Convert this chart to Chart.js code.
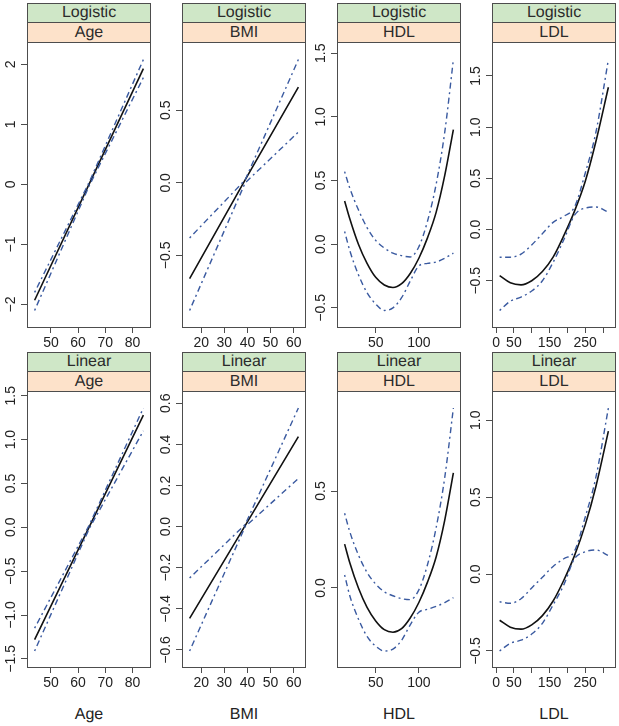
<!DOCTYPE html>
<html>
<head>
<meta charset="utf-8">
<script src="https://cdn.jsdelivr.net/npm/chart.js@4.4.0/dist/chart.umd.min.js"></script>
<style>
  body { margin: 0; background: #fff; }
  #fig { position: relative; width: 619px; height: 726px; font-family: "Liberation Sans", Arial, sans-serif; color: #222; }
  .strip { position: absolute; box-sizing: border-box; border: 1px solid #4d4d4d; text-align: center; font-size: 16px; font-weight: 400; line-height: 18px; color: #2b2b2b; text-rendering: geometricPrecision; -webkit-font-smoothing: antialiased; }
  .model { background: #cfe7c7; }
  .var { background: #fde2ca; }
  .xlab { position: absolute; text-align: center; font-size: 16px; line-height: 18px; text-rendering: geometricPrecision; }
  canvas { position: absolute; }
</style>
</head>
<body>
<div id="fig"></div>
<script>
// ---- data ----
const ageX = [44, 64, 84];
const logAgeFit = [-1.93, 0.0, 1.93];
const logAgeUpper = [-1.80, 0.03, 2.08];
const logAgeLower = [-2.10, -0.03, 1.78];
const linAgeFit = [-1.28, 0.0, 1.28];
const linAgeUpper = [-1.15, 0.02, 1.36];
const linAgeLower = [-1.41, -0.02, 1.10];

const bmiX = [15, 39, 62];
const logBmiFit = [-0.66, 0.02, 0.66];
const logBmiUpper = [-0.38, 0.02, 0.85];
const logBmiLower = [-0.88, 0.00, 0.35];
const linBmiFit = [-0.446, 0.005, 0.438];
const linBmiUpper = [-0.25, 0.01, 0.577];
const linBmiLower = [-0.605, 0.0, 0.234];

const hdlX = [14, 20, 30, 40, 50, 60, 70, 80, 90, 100, 110, 120, 130, 140];
const logHdlFit = [0.34, 0.20, 0.00, -0.15, -0.26, -0.32, -0.34, -0.31, -0.23, -0.11, 0.05, 0.25, 0.54, 0.90];
const logHdlUpper = [0.57, 0.44, 0.27, 0.13, 0.03, -0.03, -0.07, -0.09, -0.10, -0.02, 0.18, 0.47, 0.88, 1.45];
const logHdlLower = [0.10, -0.05, -0.24, -0.38, -0.47, -0.52, -0.50, -0.42, -0.29, -0.17, -0.15, -0.14, -0.11, -0.07];
const linHdlFit = [0.226, 0.13, 0.0, -0.10, -0.17, -0.215, -0.228, -0.21, -0.155, -0.075, 0.03, 0.16, 0.35, 0.594];
const linHdlUpper = [0.385, 0.29, 0.17, 0.08, 0.02, -0.02, -0.04, -0.055, -0.06, -0.01, 0.12, 0.31, 0.57, 0.928];
const linHdlLower = [0.067, -0.04, -0.16, -0.25, -0.30, -0.325, -0.315, -0.27, -0.19, -0.125, -0.11, -0.095, -0.075, -0.05];

const ldlX = [10, 40, 70, 100, 130, 160, 190, 220, 250, 280, 315];
const logLdlFit = [-0.45, -0.52, -0.54, -0.50, -0.41, -0.27, -0.06, 0.18, 0.47, 0.86, 1.39];
const logLdlUpper = [-0.27, -0.27, -0.24, -0.15, -0.04, 0.07, 0.13, 0.22, 0.55, 0.95, 1.66];
const logLdlLower = [-0.79, -0.70, -0.66, -0.60, -0.50, -0.32, -0.10, 0.14, 0.21, 0.22, 0.17];
const linLdlFit = [-0.30, -0.345, -0.358, -0.33, -0.27, -0.175, -0.04, 0.12, 0.32, 0.57, 0.93];
const linLdlUpper = [-0.18, -0.19, -0.16, -0.09, -0.02, 0.05, 0.10, 0.15, 0.37, 0.63, 1.08];
const linLdlLower = [-0.50, -0.45, -0.43, -0.39, -0.32, -0.20, -0.07, 0.10, 0.145, 0.157, 0.12];

// tick values and labels
const ageTicks = [50, 60, 70, 80];
const bmiTicks = [20, 30, 40, 50, 60];
const hdlTicks = [50, 100];
const ldlTicks = [0, 50, 100, 150, 200, 250, 300];
const ldlTickLabels = ['0', '50', '', '150', '', '250', ''];

const logAgeY = [-2, -1, 0, 1, 2];
const logBmiY = [-0.5, 0, 0.5];
const logHdlY = [-0.5, 0, 0.5, 1, 1.5];
const logLdlY = [-0.5, 0, 0.5, 1, 1.5];
const linAgeY = [-1.5, -1, -0.5, 0, 0.5, 1, 1.5];
const linBmiY = [-0.6, -0.4, -0.2, 0, 0.2, 0.4, 0.6];
const linHdlY = [0, 0.5];
const linLdlY = [-0.5, 0, 0.5, 1];

const models = ['Logistic', 'Linear'];
const vars = ['Age', 'BMI', 'HDL', 'LDL'];

// x, fit, upper, lower, x ticks, x tick labels, y ticks, decimals, curved
const panels = [
  [ageX, logAgeFit, logAgeUpper, logAgeLower, ageTicks, null, logAgeY, 0, false],
  [bmiX, logBmiFit, logBmiUpper, logBmiLower, bmiTicks, null, logBmiY, 1, false],
  [hdlX, logHdlFit, logHdlUpper, logHdlLower, hdlTicks, null, logHdlY, 1, true],
  [ldlX, logLdlFit, logLdlUpper, logLdlLower, ldlTicks, ldlTickLabels, logLdlY, 1, true],
  [ageX, linAgeFit, linAgeUpper, linAgeLower, ageTicks, null, linAgeY, 1, false],
  [bmiX, linBmiFit, linBmiUpper, linBmiLower, bmiTicks, null, linBmiY, 1, false],
  [hdlX, linHdlFit, linHdlUpper, linHdlLower, hdlTicks, null, linHdlY, 1, true],
  [ldlX, linLdlFit, linLdlUpper, linLdlLower, ldlTicks, ldlTickLabels, linLdlY, 1, true]
];

// ---- layout ----
const colLeft = [27, 182, 337, 492];
const boxW = 124;
const stripTop = [3, 352];
const stripH = 39;
const plotBottom = [328, 668];
const yAxisW = 27, xAxisH = 26, padRight = 4;
const FONT = '"Liberation Sans", Arial, sans-serif';
const BLUE = '#3a5aa0';

function fmt(v, dec) {
  if (Math.abs(v) < 1e-9) v = 0;
  return v.toFixed(dec).replace('-', '\u2212');
}

// lattice style limits: data range plus 7% each side
function pad(arrs) {
  const all = [].concat(...arrs);
  const lo = Math.min(...all), hi = Math.max(...all);
  const d = (hi - lo) * 0.07;
  return [lo - d, hi + d];
}

const framePlugin = {
  id: 'frame',
  afterDatasetsDraw(chart) {
    const {ctx, chartArea: a} = chart;
    ctx.save();
    ctx.strokeStyle = '#4d4d4d';
    ctx.lineWidth = 1;
    ctx.strokeRect(a.left + 0.5, a.top + 0.5, a.right - a.left - 1, a.bottom - a.top - 1);
    ctx.restore();
  },
  afterDraw(chart, args, opts) {
    const {ctx, chartArea: a} = chart;
    const ys = chart.scales.y;
    ctx.save();
    ctx.font = '14px ' + FONT;
    ctx.fillStyle = '#222';
    ctx.textAlign = 'center';
    ctx.textBaseline = 'middle';
    ys.ticks.forEach(t => {
      ctx.save();
      ctx.translate(a.left - 16, ys.getPixelForValue(t.value));
      ctx.rotate(-Math.PI / 2);
      ctx.fillText(fmt(t.value, opts.dec), 0, 0);
      ctx.restore();
    });
    ctx.restore();
  }
};

const fig = document.getElementById('fig');

panels.forEach((p, i) => {
  const [xs, fit, upper, lower, xt, xl, yt, dec, curved] = p;
  const r = Math.floor(i / 4), c = i % 4;
  const left = colLeft[c];
  const top = stripTop[r];
  const plotTop = top + stripH;
  const plotH = plotBottom[r] - plotTop;

  const s1 = document.createElement('div');
  s1.className = 'strip model';
  s1.style.cssText = `left:${left}px;top:${top}px;width:${boxW}px;height:20px;`;
  s1.textContent = models[r];
  fig.appendChild(s1);
  const s2 = document.createElement('div');
  s2.className = 'strip var';
  s2.style.cssText = `left:${left}px;top:${top + 19}px;width:${boxW}px;height:21px;line-height:19px;`;
  s2.textContent = vars[c];
  fig.appendChild(s2);

  if (r === 1) {
    const t = document.createElement('div');
    t.className = 'xlab';
    t.style.cssText = `left:${left}px;top:706px;width:${boxW}px;`;
    t.textContent = vars[c];
    fig.appendChild(t);
  }

  const cv = document.createElement('canvas');
  const W = yAxisW + boxW + padRight, H = stripH + plotH + xAxisH;
  cv.width = W; cv.height = H;
  cv.style.cssText = `left:${left - yAxisW}px;top:${top}px;width:${W}px;height:${H}px;`;
  fig.appendChild(cv);

  const [xmin, xmax] = pad([xs]);
  const [ymin, ymax] = pad([fit, upper, lower]);
  const pts = ys => xs.map((x, k) => ({x: x, y: ys[k]}));
  const mode = curved ? 'monotone' : 'default';
  const ci = {borderColor: BLUE, borderWidth: 1.4, borderDash: [2, 3.5, 6, 3.5], pointRadius: 0, cubicInterpolationMode: mode, tension: 0, fill: false};

  new Chart(cv, {
    type: 'line',
    data: {
      datasets: [
        Object.assign({data: pts(upper)}, ci),
        Object.assign({data: pts(lower)}, ci),
        {data: pts(fit), borderColor: '#111', borderWidth: 1.6, pointRadius: 0, cubicInterpolationMode: mode, tension: 0, fill: false}
      ]
    },
    options: {
      responsive: false,
      animation: false,
      devicePixelRatio: 1,
      layout: {autoPadding: false, padding: {left: 0, right: padRight, top: stripH, bottom: 0}},
      plugins: {legend: {display: false}, tooltip: {enabled: false}, frame: {dec: dec}},
      scales: {
        x: {
          type: 'linear', min: xmin, max: xmax,
          afterBuildTicks: s => { s.ticks = xt.map(v => ({value: v})); },
          afterFit: s => { s.height = xAxisH; s.paddingLeft = 0; s.paddingRight = 0; },
          ticks: {
            autoSkip: false, maxRotation: 0, minRotation: 0, padding: 2,
            color: '#222', font: {size: 14, family: FONT},
            callback: (v, k) => xl ? xl[k] : String(v)
          },
          grid: {drawOnChartArea: false, drawTicks: true, tickLength: 5, color: '#4d4d4d'},
          border: {display: false}
        },
        y: {
          type: 'linear', min: ymin, max: ymax,
          afterBuildTicks: s => { s.ticks = yt.map(v => ({value: v})); },
          afterFit: s => { s.width = yAxisW; s.paddingTop = 0; s.paddingBottom = 0; },
          ticks: {display: false},
          grid: {drawOnChartArea: false, drawTicks: true, tickLength: 6, color: '#4d4d4d'},
          border: {display: false}
        }
      }
    },
    plugins: [framePlugin]
  });
});
</script>
</body>
</html>
